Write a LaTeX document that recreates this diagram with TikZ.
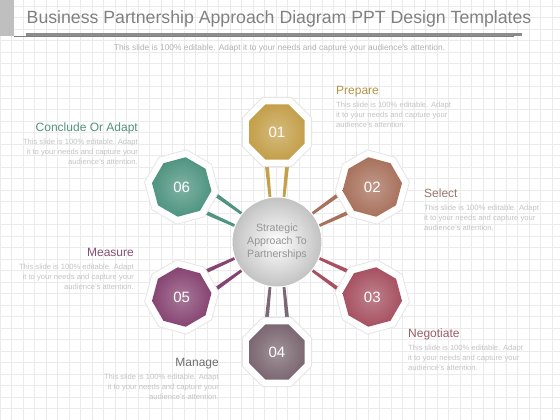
\documentclass[tikz,border=0pt]{standalone}
\usepackage{fontspec}
\setmainfont{Liberation Sans}
\usetikzlibrary{shapes.geometric,calc,positioning}

\definecolor{gridline}{RGB}{235,235,235}
\definecolor{cone}{RGB}{196,160,75}
\definecolor{ctwo}{RGB}{168,113,92}
\definecolor{cthree}{RGB}{166,80,96}
\definecolor{cfour}{RGB}{124,104,114}
\definecolor{cfive}{RGB}{134,68,114}
\definecolor{csix}{RGB}{78,148,128}

\newcommand{\blurb}{This slide is 100\% editable. Adapt\\it to your needs and capture your\\audience's attention.}

\begin{document}
\begin{tikzpicture}[x=1pt, y=1pt,
    rim/.style = {regular polygon, regular polygon sides=8, minimum size=75pt,
      inner sep=0pt, fill=white, draw=black!10, line width=0.8pt},
    octa/.style = {regular polygon, regular polygon sides=8, minimum size=60pt,
      inner sep=0pt, inner color=#1!72!white, outer color=#1, text=white,
      font=\fontsize{15}{15}\selectfont},
    hub/.style = {circle, minimum size=90pt, inner sep=0pt, inner color=white,
      outer color=black!24, draw=white, line width=1pt, align=center,
      text=black!42, font=\fontsize{10.6}{13}\selectfont},
    heading/.style = {inner sep=0pt, font=\fontsize{12}{12}\selectfont},
    blurbtext/.style = {inner sep=0pt, text=black!23,
      font=\fontsize{7.6}{9.7}\selectfont}]
  % background and title
  \useasboundingbox (0,0) rectangle (560,420);
  \fill[white] (0,0) rectangle (560,420);
  \draw[gridline, line width=0.5pt, step=11.5] (0,0) grid (560,420);
  \fill[black!25] (0,420) rectangle (14,384);
  \node[anchor=base west, inner sep=0pt, text=black!50,
    font=\fontsize{17.7}{17.7}\selectfont] (title) at (26.5,396.5)
    {Business Partnership Approach Diagram PPT Design Templates};
  \draw[black!45, line width=2.5pt] (26,385.5) -- (522,385.5);
  \draw[black!50, line width=0.7pt] (14,383.3) -- (514,383.3);
  \node[anchor=base, inner sep=0pt, text=black!30,
    font=\fontsize{8.4}{8.4}\selectfont] (sub) at (279.5,369.5)
    {This slide is 100\% editable. Adapt it to your needs and capture your audience's attention.};

  % bars from the hub to each step
  \coordinate (c) at (277,178);
  \foreach \i/\a/\c in {01/90/cone, 02/30/ctwo, 03/-30/cthree,
                        04/-90/cfour, 05/210/cfive, 06/150/csix} {
    \coordinate (p\i) at ($(c)+(\a:110)$);
    \fill[\c] ($(c)!40pt!(p\i)+(\a+90:5.2)$) -- ($(c)!80pt!(p\i)+(\a+90:8.5)$)
      -- ($(c)!80pt!(p\i)+(\a+90:12.5)$) -- ($(c)!40pt!(p\i)+(\a+90:7.8)$) -- cycle;
    \fill[\c] ($(c)!40pt!(p\i)+(\a-90:5.2)$) -- ($(c)!80pt!(p\i)+(\a-90:8.5)$)
      -- ($(c)!80pt!(p\i)+(\a-90:12.5)$) -- ($(c)!40pt!(p\i)+(\a-90:7.8)$) -- cycle;
  }

  % nodes
  \node[hub] (hub) at (c) {Strategic\\Approach To\\Partnerships};
  \foreach \i/\a/\c [evaluate=\a as \r using \a-90] in {01/90/cone, 02/30/ctwo,
      03/-30/cthree, 04/-90/cfour, 05/210/cfive, 06/150/csix} {
    \node[rim, shape border rotate=\r] (f\i) at (p\i) {};
    \node[octa=\c, shape border rotate=\r] (o\i) at (p\i) {\i};
  }

  % labels
  \node[heading, text=cone!92!black, anchor=base west] (prep) at (336,325) {Prepare};
  \node[blurbtext, align=left, below right=7pt and 0pt of prep.base west] (prept) {\blurb};
  \node[heading, text=ctwo!60!gray, anchor=base west] (sel) at (424,222) {Select};
  \node[blurbtext, align=left, below right=7pt and 0pt of sel.base west] (selt) {\blurb};
  \node[heading, text=cthree!75!gray, anchor=base west] (neg) at (408,82) {Negotiate};
  \node[blurbtext, align=left, below right=7pt and 0pt of neg.base west] (negt) {\blurb};
  \node[heading, text=black!57, anchor=base east] (man) at (219,53) {Manage};
  \node[blurbtext, align=right, below left=7pt and 0pt of man.base east] (mant) {\blurb};
  \node[heading, text=cfive!80!gray, anchor=base east] (mea) at (134,163) {Measure};
  \node[blurbtext, align=right, below left=7pt and 0pt of mea.base east] (meat) {\blurb};
  \node[heading, text=csix!90!gray, anchor=base east] (con) at (138,288) {Conclude Or Adapt};
  \node[blurbtext, align=right, below left=7pt and 0pt of con.base east] (cont) {\blurb};
\end{tikzpicture}
\end{document}
